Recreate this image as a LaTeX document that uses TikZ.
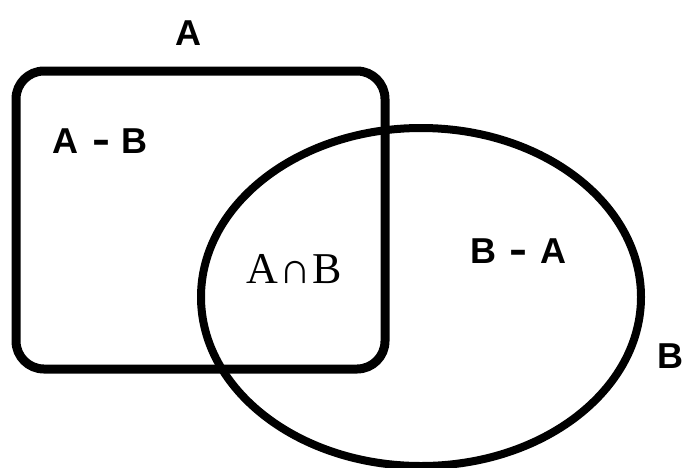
\documentclass[tikz,border=0pt]{standalone}
\usepackage{fontspec}
\usepackage{graphicx}
\setmainfont{Liberation Sans}
\newfontfamily\serfont{Liberation Serif}
\newcommand{\widehy}{\scalebox{1.5}[1.15]{-}}
\begin{document}
\begin{tikzpicture}[x=1pt,y=-1pt,
  lbl/.style={font=\fontsize{36}{36}\selectfont\bfseries, inner sep=0, anchor=base},
  serlbl/.style={font=\serfont\fontsize{44}{44}\selectfont, inner sep=0, anchor=base}]
\clip (0,0) rectangle (687,467);
\draw[line width=9, rounded corners=28] (16,71) rectangle (385,369);
\draw[line width=8] (421,297) ellipse [x radius=220, y radius=169];
\node[lbl] (la) at (188,45) {A};
\node[lbl] (lamb) at (100,153) {A\hspace{14pt}\widehy\hspace{12pt}B};
\node[lbl] (lbma) at (518,263) {B\hspace{13pt}\widehy\hspace{13pt}A};
\node[lbl] (lb) at (670,368) {B};
\node[serlbl] (lab) at (294,283) {A\kern1pt∩\kern1ptB};
\end{tikzpicture}
\end{document}
